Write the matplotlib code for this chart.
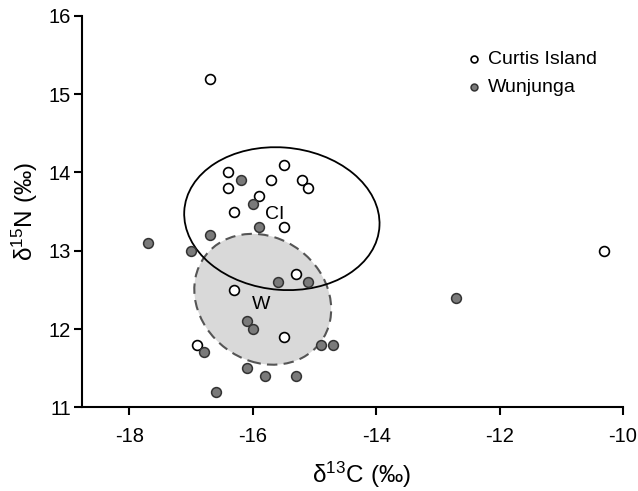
import matplotlib.pyplot as plt
from matplotlib.patches import Ellipse

plt.rcParams['font.family'] = ['Liberation Sans', 'DejaVu Sans']
plt.rcParams['mathtext.fontset'] = 'custom'
plt.rcParams['mathtext.rm'] = 'Liberation Sans'
plt.rcParams['axes.unicode_minus'] = False

# Curtis Island (open circles)
ci_c = [-16.7, -16.4, -16.4, -16.3, -15.9, -15.7, -15.5, -15.2, -15.1, -15.5,
        -15.3, -16.3, -15.5, -16.9, -10.3]
ci_n = [15.2, 14.0, 13.8, 13.5, 13.7, 13.9, 14.1, 13.9, 13.8, 13.3,
        12.7, 12.5, 11.9, 11.8, 13.0]

# Wunjunga (grey circles)
wu_c = [-16.2, -16.0, -15.9, -16.7, -17.7, -17.0, -15.6, -15.1, -16.1, -16.0,
        -16.8, -16.1, -15.8, -15.3, -16.6, -14.9, -14.7, -12.7]
wu_n = [13.9, 13.6, 13.3, 13.2, 13.1, 13.0, 12.6, 12.6, 12.1, 12.0,
        11.7, 11.5, 11.4, 11.4, 11.2, 11.8, 11.8, 12.4]

# ellipses: centre, width, height, angle (data units)
ci_ell = (-15.53, 13.41, 3.17, 1.82, -3.3)
wu_ell = (-15.84, 12.38, 2.25, 1.63, -13.9)

fig = plt.figure(figsize=(6.38, 4.91), dpi=100)
ax = fig.add_axes([0.1285, 0.1705, 0.848, 0.797])

ax.add_patch(Ellipse(wu_ell[:2], wu_ell[2], wu_ell[3], angle=wu_ell[4],
                     facecolor='#d9d9d9', edgecolor='#555555', lw=1.5,
                     linestyle=(0, (5, 3)), zorder=1))
ax.add_patch(Ellipse(ci_ell[:2], ci_ell[2], ci_ell[3], angle=ci_ell[4],
                     facecolor='none', edgecolor='black', lw=1.3, zorder=2))

ax.scatter(ci_c, ci_n, s=50, facecolor='white', edgecolor='black', lw=1.2,
           zorder=3, label='Curtis Island')
ax.scatter(wu_c, wu_n, s=50, facecolor='#7a7a7a', edgecolor='#333333', lw=1.1,
           zorder=3, label='Wunjunga')

ax.text(-15.65, 13.46, 'CI', fontsize=14, ha='center', va='center', zorder=4)
ax.text(-15.86, 12.31, 'W', fontsize=14, ha='center', va='center', zorder=4)

ax.set_xlim(-18.77, -10)
ax.set_ylim(11, 16)
ax.set_xticks([-18, -16, -14, -12, -10])
ax.set_yticks([11, 12, 13, 14, 15, 16])
ax.spines['top'].set_visible(False)
ax.spines['right'].set_visible(False)
for s in ['left', 'bottom']:
    ax.spines[s].set_linewidth(1.5)
ax.tick_params(direction='out', length=6, width=1.5, labelsize=14.5)
ax.tick_params(axis='x', pad=8)
ax.tick_params(axis='y', pad=2)

ax.set_xlabel(r'$\mathregular{δ^{13}C\ (‰)}$', fontsize=17.5)
ax.xaxis.set_label_coords(0.517, -0.133)
ax.set_ylabel(r'$\mathregular{δ^{15}N\ (‰)}$', fontsize=17.5, labelpad=6)

ax.legend(loc='upper left', bbox_to_anchor=(0.731, 0.898),
          bbox_transform=fig.transFigure, frameon=False,
          fontsize=14, handlelength=0.8, handletextpad=0.3,
          labelspacing=0.56, borderpad=0, borderaxespad=0,
          markerscale=0.7, scatterpoints=1)

fig.savefig('out.png', dpi=100)
